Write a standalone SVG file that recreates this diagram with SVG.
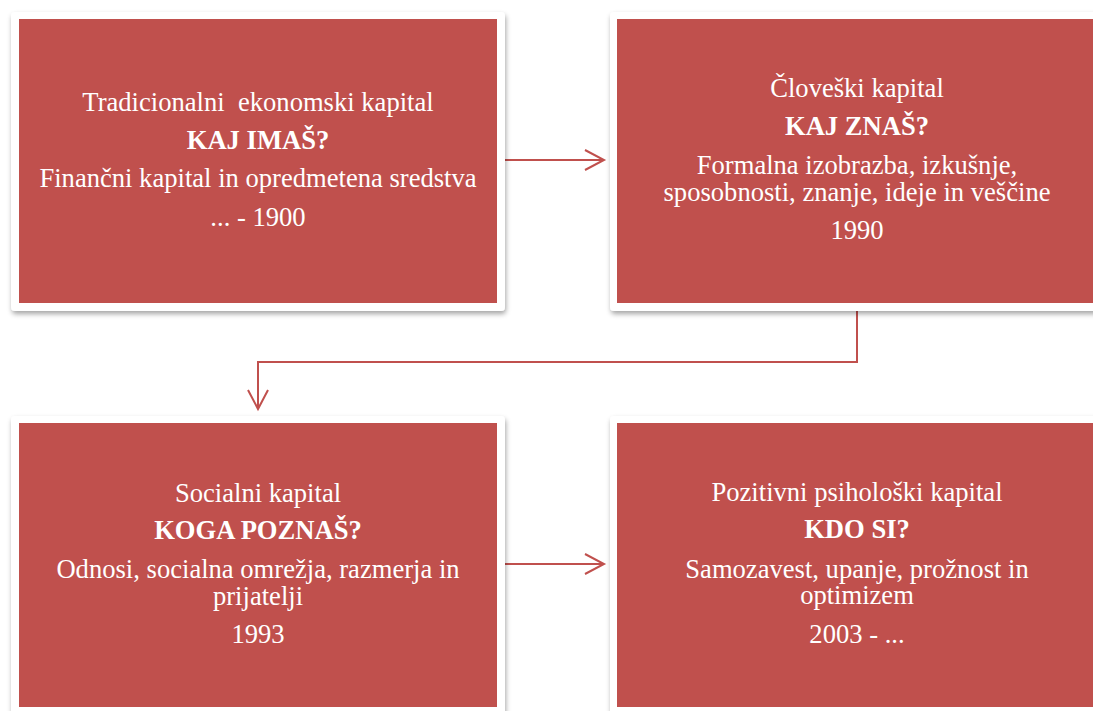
<svg xmlns="http://www.w3.org/2000/svg" width="1093" height="711" viewBox="0 0 1093 711">
<style>
.frame{fill:#ffffff;filter:url(#sh)}
.fill{fill:#C0504D}
.t{font-family:"Liberation Serif","Times New Roman",serif;font-size:26.6px;fill:#ffffff;text-anchor:middle}
.b{font-weight:bold}
.conn{fill:none;stroke:#C0504D;stroke-width:2}
</style>
<defs>
<filter id="sh" x="-5%" y="-5%" width="110%" height="115%">
<feDropShadow dx="1" dy="3" stdDeviation="2.5" flood-color="#000" flood-opacity="0.35"/>
</filter>
<marker id="chev" markerWidth="24" markerHeight="24" refX="20" refY="11" orient="auto" markerUnits="userSpaceOnUse">
<path d="M1,1 L20,11 L1,21" fill="none" stroke="#C0504D" stroke-width="2"/>
</marker>
</defs>
<rect width="1093" height="711" fill="#ffffff"/>
<g id="connectors">
<path class="conn" d="M505,160 H604" marker-end="url(#chev)"/>
<path class="conn" d="M857,311 V362 H258 V409" marker-end="url(#chev)"/>
<path class="conn" d="M505,564 H604" marker-end="url(#chev)"/>
</g>
<g id="node1">
<rect class="frame" x="11" y="12" width="494" height="299" rx="4"/>
<rect class="fill" x="19" y="19" width="478" height="284"/>
<text class="t" x="258" y="111" xml:space="preserve">Tradicionalni  ekonomski kapital</text>
<text class="t b" x="258" y="149">KAJ IMAŠ?</text>
<text class="t" x="258" y="187">Finančni kapital in opredmetena sredstva</text>
<text class="t" x="258" y="226">... - 1900</text>
</g>
<g id="node2">
<rect class="frame" x="610" y="12" width="494" height="299" rx="4"/>
<rect class="fill" x="617" y="19" width="480" height="284"/>
<text class="t" x="857" y="97">Človeški kapital</text>
<text class="t b" x="857" y="135">KAJ ZNAŠ?</text>
<text class="t" x="857" y="174">Formalna izobrazba, izkušnje,</text>
<text class="t" x="857" y="201">sposobnosti, znanje, ideje in veščine</text>
<text class="t" x="857" y="239">1990</text>
</g>
<g id="node3">
<rect class="frame" x="11" y="416" width="494" height="299" rx="4"/>
<rect class="fill" x="19" y="423" width="478" height="284"/>
<text class="t" x="258" y="502">Socialni kapital</text>
<text class="t b" x="258" y="539">KOGA POZNAŠ?</text>
<text class="t" x="258" y="578">Odnosi, socialna omrežja, razmerja in</text>
<text class="t" x="258" y="605">prijatelji</text>
<text class="t" x="258" y="643">1993</text>
</g>
<g id="node4">
<rect class="frame" x="610" y="416" width="494" height="299" rx="4"/>
<rect class="fill" x="617" y="423" width="480" height="284"/>
<text class="t" x="857" y="501">Pozitivni psihološki kapital</text>
<text class="t b" x="857" y="538">KDO SI?</text>
<text class="t" x="857" y="578">Samozavest, upanje, prožnost in</text>
<text class="t" x="857" y="604">optimizem</text>
<text class="t" x="857" y="643">2003 - ...</text>
</g>
</svg>
